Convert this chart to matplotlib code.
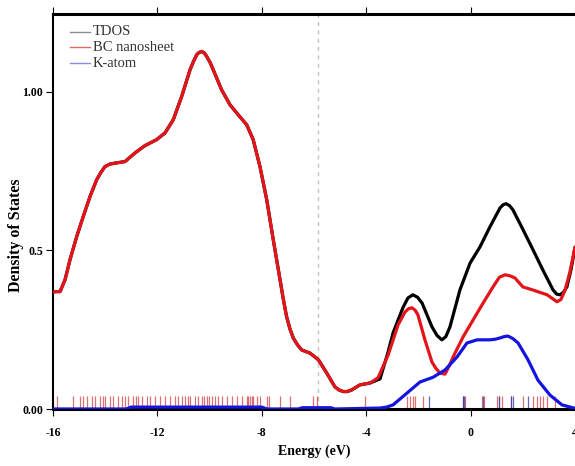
import matplotlib
matplotlib.use("Agg")
import matplotlib.pyplot as plt

plt.rcParams['axes.unicode_minus'] = False

# ---- data ----
energy_bc = [-16.0, -15.92, -15.73, -15.54, -15.35, -15.09, -14.84, -14.58, -14.33, -14.17,
             -14.01, -13.82, -13.62, -13.24, -12.86, -12.48, -12.03, -11.71, -11.39, -11.07,
             -10.75, -10.62, -10.49, -10.40, -10.30, -10.20, -10.11, -9.98, -9.86, -9.54,
             -9.22, -8.90, -8.58, -8.33, -8.07, -7.81, -7.56, -7.30, -7.18, -7.05,
             -6.92, -6.79, -6.63, -6.47, -6.15, -5.83, -5.51, -5.20, -5.04, -4.88,
             -4.72, -4.56, -4.24, -3.85, -3.55, -3.16, -2.78, -2.51, -2.38, -2.25,
             -2.13, -2.02, -1.75, -1.48, -1.33, -1.17, -0.98, -0.83, -0.67, -0.29,
             0.09, 0.48, 0.86, 1.10, 1.32, 1.50, 1.70, 2.00, 2.39, 2.93,
             3.31, 3.46, 3.62, 3.80, 4.0]
dos_bc = [0.368, 0.370, 0.370, 0.407, 0.470, 0.544, 0.607, 0.670, 0.722, 0.745,
          0.764, 0.772, 0.775, 0.780, 0.807, 0.830, 0.849, 0.870, 0.912, 0.985,
          1.069, 1.095, 1.117, 1.124, 1.127, 1.122, 1.111, 1.092, 1.069, 1.006,
          0.959, 0.927, 0.896, 0.849, 0.764, 0.659, 0.533, 0.407, 0.348, 0.291,
          0.252, 0.223, 0.202, 0.186, 0.176, 0.155, 0.113, 0.070, 0.060, 0.055,
          0.055, 0.060, 0.076, 0.082, 0.098, 0.170, 0.265, 0.306, 0.316, 0.319,
          0.312, 0.297, 0.218, 0.148, 0.128, 0.113, 0.110, 0.134, 0.164, 0.227,
          0.280, 0.334, 0.385, 0.415, 0.423, 0.420, 0.413, 0.385, 0.375, 0.360,
          0.338, 0.345, 0.375, 0.430, 0.510]

energy_tdos = [-16.0, -15.92, -15.73, -15.54, -15.35, -15.09, -14.84, -14.58, -14.33, -14.17,
               -14.01, -13.82, -13.62, -13.24, -12.86, -12.48, -12.03, -11.71, -11.39, -11.07,
               -10.75, -10.62, -10.49, -10.40, -10.30, -10.20, -10.11, -9.98, -9.86, -9.54,
               -9.22, -8.90, -8.58, -8.33, -8.07, -7.81, -7.56, -7.30, -7.18, -7.05,
               -6.92, -6.79, -6.63, -6.47, -6.15, -5.83, -5.51, -5.20, -5.04, -4.88,
               -4.72, -4.56, -4.24, -3.85, -3.47, -3.16, -2.97, -2.59, -2.40, -2.21,
               -2.03, -1.86, -1.48, -1.29, -1.10, -0.95, -0.79, -0.41, -0.02, 0.36,
               0.74, 1.13, 1.25, 1.36, 1.49, 1.62, 2.01, 2.39, 2.77, 3.16,
               3.30, 3.43, 3.56, 3.69, 3.85, 4.0]
dos_tdos = [0.368, 0.370, 0.370, 0.407, 0.470, 0.544, 0.607, 0.670, 0.722, 0.745,
            0.764, 0.772, 0.775, 0.780, 0.807, 0.830, 0.849, 0.870, 0.912, 0.985,
            1.069, 1.095, 1.117, 1.124, 1.127, 1.122, 1.111, 1.092, 1.069, 1.006,
            0.959, 0.927, 0.896, 0.849, 0.764, 0.659, 0.533, 0.407, 0.348, 0.291,
            0.252, 0.223, 0.202, 0.186, 0.176, 0.155, 0.113, 0.070, 0.060, 0.055,
            0.055, 0.060, 0.076, 0.082, 0.095, 0.180, 0.240, 0.320, 0.350, 0.360,
            0.352, 0.334, 0.259, 0.232, 0.218, 0.228, 0.259, 0.375, 0.460, 0.511,
            0.574, 0.634, 0.644, 0.647, 0.641, 0.628, 0.565, 0.502, 0.438, 0.375,
            0.362, 0.360, 0.368, 0.385, 0.440, 0.510]

energy_k = [-16.0, -13.2, -13.0, -8.0, -7.8, -6.6, -6.45, -5.35, -5.2, -3.47,
            -3.22, -2.97, -2.44, -1.94, -1.44, -0.98, -0.52, -0.14, 0.25, 0.74,
            0.95, 1.13, 1.28, 1.43, 1.62, 1.82, 2.20, 2.58, 3.04, 3.50,
            4.0]
dos_k = [0.0, 0.0, 0.006, 0.006, 0.0, 0.0, 0.004, 0.004, 0.0, 0.003,
         0.006, 0.013, 0.050, 0.085, 0.100, 0.123, 0.164, 0.208, 0.218, 0.218,
         0.220, 0.224, 0.228, 0.230, 0.222, 0.208, 0.155, 0.091, 0.044, 0.013,
         0.002]

levels_bc = [-15.86, -15.22, -14.97, -14.84, -14.71, -14.52, -14.39, -14.20, -14.07, -14.00,
             -13.82, -13.69, -13.50, -13.37, -13.24, -13.11, -12.92, -12.82, -12.73, -12.60,
             -12.41, -12.28, -12.09, -11.90, -11.71, -11.52, -11.33, -11.20, -11.07, -10.95,
             -10.82, -10.75, -10.56, -10.43, -10.31, -10.21, -10.11, -10.01, -9.92, -9.79,
             -9.67, -9.54, -9.34, -9.15, -8.96, -8.77, -8.58, -8.51, -8.45, -8.39,
             -8.33, -8.20, -8.07, -7.79, -7.71, -7.30, -6.92, -6.04, -5.89, -4.05,
             -2.45, -2.32, -2.20, -2.13, -1.81, -0.30, -0.21, 0.43, 0.53, 1.00,
             1.10, 1.19, 1.54, 2.02, 2.40, 2.53, 2.66, 2.78, 2.91, 3.23]
levels_k = [-1.59, -0.30, -0.26, 0.48, 1.10, 1.54, 1.62, 2.21]
level_height = 0.041

fermi_marker = -5.85

xticks = [-16, -12, -8, -4, 0, 4]
xticklabels = ['-16', '-12', '-8', '-4', '0', '4']
yticks = [0.0, 0.5, 1.0]
yticklabels = ['0.00', '0.5', '1.00']

series_labels = ['TDOS', 'BC nanosheet', 'K-atom']
series_colors = ['#000000', '#e3141a', '#1414e0']
legend_colors = ['#8c8c8c', '#e06a6a', '#8a8ae6']

# ---- figure ----
fig = plt.figure(figsize=(5.75, 4.66), dpi=100)
ax = fig.add_axes([53/575, 57/466, 522/575, 395/466])

ax.vlines(levels_bc, 0, level_height, colors='#cc3333', linewidth=0.9, alpha=0.7, zorder=1)
ax.vlines(levels_k, 0, level_height, colors='#3030b0', linewidth=0.9, alpha=0.75, zorder=1)

ax.axvline(fermi_marker, color='#c4c4c4', linestyle=(0, (3, 3)), linewidth=1.0, zorder=0)

ax.plot(energy_tdos, dos_tdos, color=series_colors[0], linewidth=2.3,
        solid_joinstyle='round', solid_capstyle='round', zorder=3)
ax.plot(energy_bc, dos_bc, color=series_colors[1], linewidth=2.3,
        solid_joinstyle='round', solid_capstyle='round', zorder=4)
ax.plot(energy_k, dos_k, color=series_colors[2], linewidth=2.3,
        solid_joinstyle='round', solid_capstyle='round', zorder=5)

ax.set_xlim(-16, 4)
ax.set_ylim(0, 1.245)

tick_font = dict(family='Liberation Serif', weight='bold', size=8.5)
ax.set_xticks(xticks)
ax.set_xticklabels(xticklabels, fontdict=tick_font)
ax.set_yticks(yticks)
ax.set_yticklabels(yticklabels, fontdict=tick_font)
ax.tick_params(axis='x', direction='out', length=5, width=0.8, pad=8, top=True)
ax.tick_params(axis='y', direction='out', length=5, width=0.8, pad=2)

ax.spines['right'].set_visible(False)
ax.spines['bottom'].set_linewidth(2.2)
ax.spines['top'].set_linewidth(2.2)
ax.spines['left'].set_linewidth(1.5)

ax.set_xlabel('Energy (eV)', family='Liberation Serif', weight='bold', size=10, labelpad=4)
ax.set_ylabel('Density of States', family='Liberation Serif', weight='bold', size=11.5)
ax.yaxis.set_label_coords(-0.056, 0.44)

# legend (manual, no frame)
leg_y = [0.955, 0.916, 0.875]
for lab, col, yy in zip(series_labels, legend_colors, leg_y):
    ax.plot([0.0326, 0.0709], [yy, yy], transform=ax.transAxes, color=col, linewidth=1.0, zorder=6)
    ax.text(0.0766, yy, lab, transform=ax.transAxes, va='center', ha='left',
            family='Liberation Serif', size=10.5, color='#333333', zorder=6)

fig.savefig('out.png', dpi=100)
